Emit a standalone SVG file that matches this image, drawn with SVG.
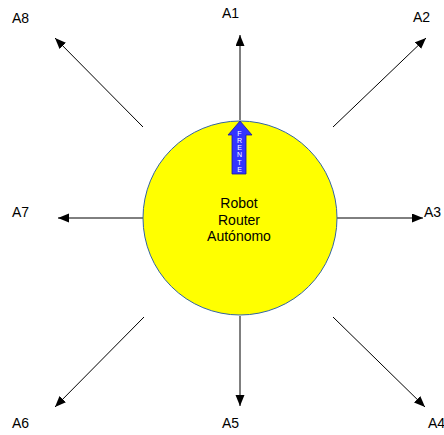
<svg xmlns="http://www.w3.org/2000/svg" width="444" height="435" viewBox="0 0 444 435">
<style>
.lbl{font-family:"Liberation Sans",Arial,sans-serif;font-size:14px;fill:#000}
.conn{stroke:#000;stroke-width:1;fill:none;marker-end:url(#ah)}
.fr{font-family:"Liberation Sans",Arial,sans-serif;font-size:7px;fill:#fff;text-anchor:middle}
</style>
<defs>
<marker id="ah" markerUnits="userSpaceOnUse" markerWidth="12" markerHeight="10" refX="11" refY="4.5" orient="auto">
<path d="M0,0 L11,4.5 L0,9 Z" fill="#000"/>
</marker>
</defs>
<rect width="444" height="435" fill="#fff"/>
<g id="connectors">
<line class="conn" x1="240" y1="120" x2="240" y2="35"/>
<line class="conn" x1="333" y1="127" x2="426" y2="38"/>
<line class="conn" x1="337" y1="218" x2="423" y2="218"/>
<line class="conn" x1="333" y1="317" x2="425" y2="407"/>
<line class="conn" x1="240" y1="316" x2="240" y2="406"/>
<line class="conn" x1="144" y1="317" x2="55" y2="407"/>
<line class="conn" x1="143" y1="218" x2="58" y2="218"/>
<line class="conn" x1="143" y1="127" x2="55" y2="38"/>
</g>
<g id="robot">
<circle cx="240" cy="218" r="97" fill="#ffff00" stroke="#3465a4" stroke-width="1"/>
<text class="lbl" text-anchor="middle" x="239" y="208">Robot</text>
<text class="lbl" text-anchor="middle" x="239" y="224.5">Router</text>
<text class="lbl" text-anchor="middle" x="239" y="241">Autónomo</text>
</g>
<g id="frente">
<path d="M240,121 L252,135 L246,135 L246,174 L232,174 L232,135 L228,135 Z" fill="#3333ff" stroke="#1a1a99" stroke-width="0.8"/>
<text class="fr" x="239.5" y="135.5">F</text>
<text class="fr" x="239.5" y="142.8">R</text>
<text class="fr" x="239.5" y="150.1">E</text>
<text class="fr" x="239.5" y="157.4">N</text>
<text class="fr" x="239.5" y="164.7">T</text>
<text class="fr" x="239.5" y="172">E</text>
</g>
<g id="A1"><text class="lbl" x="222" y="18">A1</text></g>
<g id="A2"><text class="lbl" x="413" y="22">A2</text></g>
<g id="A3"><text class="lbl" x="424" y="217">A3</text></g>
<g id="A4"><text class="lbl" x="428" y="428">A4</text></g>
<g id="A5"><text class="lbl" x="222" y="428">A5</text></g>
<g id="A6"><text class="lbl" x="12" y="428">A6</text></g>
<g id="A7"><text class="lbl" x="12" y="217">A7</text></g>
<g id="A8"><text class="lbl" x="12" y="23">A8</text></g>
</svg>
